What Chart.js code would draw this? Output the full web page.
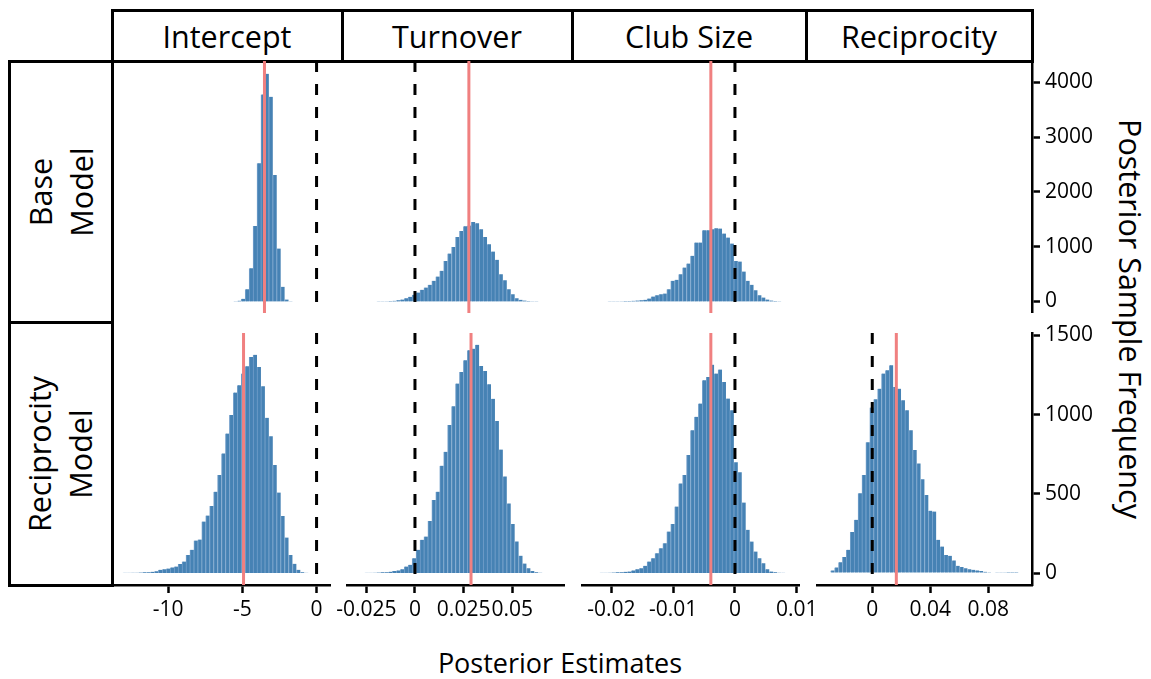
<!DOCTYPE html>
<html>
<head>
<meta charset="utf-8">
<title>Posterior Estimates</title>
<script src="https://cdn.jsdelivr.net/npm/chart.js@4.4.1/dist/chart.umd.min.js"></script>
<style>
  html, body { margin: 0; padding: 0; background: #fff; }
  #figure { position: relative; width: 1151px; height: 679px; overflow: hidden; font-family: 'Open Sans', sans-serif; color: #000; }
  #figure canvas { position: absolute; }
  .strip { position: absolute; box-sizing: border-box; border: 3px solid #000; display: flex; align-items: center; justify-content: center; font-size: 30.5px; white-space: nowrap; }
  .strip.side span { display: block; transform: rotate(-90deg); text-align: center; line-height: 41px; }
  .title { position: absolute; font-size: 27px; line-height: 38px; white-space: nowrap; transform: translate(-50%, -50%); }
  .title.vertical { writing-mode: vertical-rl; font-size: 30.5px; }
</style>
</head>
<body>
<div id="figure"></div>
<script>
// Posterior draws binned into 50 equal-width bins per parameter; both models share a parameter's bins.
const parameters = ['Intercept', 'Turnover', 'Club Size', 'Reciprocity'];
const models = [['Base', 'Model'], ['Reciprocity', 'Model']];

const binStart = [-13.05, -0.02985, -0.023144, -0.03138];
const binWidth = [0.2658, 0.002027, 0.000638, 0.002697];

// Sample counts per bin, base model
const baseIntercept = [0,0,0,0,0,0,0,0,0,0, 0,0,0,0,0,0,0,0,0,0, 0,0,0,0,0,0,0,0,3,15,
  48,225,608,1380,2522,3780,4157,3738,2310,966, 268,36,5,0,0,0,0,0,0,0];
const baseTurnover = [1,1,1,2,2,3,4,6,8,12, 24,36,61,85,122,164,213,255,304,377,
  456,559,741,875,997,1179,1288,1373,1386,1452, 1428,1319,1179,1045,911,760,498,389,225,134,
  61,30,18,10,6,4,2,1,1,0];
const baseClubSize = [1,1,2,2,3,3,4,5,7,9, 14,18,24,30,55,91,115,134,146,225,
  377,395,498,620,693,833,1076,1076,1300,1300, 1319,1337,1331,1240,1167,1057,741,729,547,377,
  304,207,115,73,36,18,9,5,2,1];

// Sample counts per bin, reciprocity model
const recipIntercept = [2,2,3,3,4,5,6,8,12,21, 24,29,36,42,57,73,115,147,205,212,
  325,363,424,514,619,755,881,997,1139,1185, 1259,1305,1364,1378,1301,1179,980,864,682,508,
  361,224,115,59,21,6,2,1,0,0];
const recipTurnover = [1,1,2,2,3,4,5,6,9,13, 17,25,42,52,94,147,210,231,329,462,
  514,678,766,934,1053,1196,1269,1343,1406,1416, 1441,1307,1276,1192,1100,960,780,610,440,310,
  200,110,60,30,14,6,3,1,1,0];
const recipClubSize = [1,1,2,2,3,4,5,6,8,10, 17,25,31,46,73,94,126,157,189,262,
  310,420,566,619,745,902,986,1070,1217,1238, 1315,1259,1284,1206,1101,1028,699,636,445,273,
  199,136,94,63,25,10,5,3,2,1];
const recipReciprocity = [4,17,36,69,101,147,260,336,504,619, 825,1045,1097,1164,1259,1280,1311,1175,1164,1091,
  1028,902,776,692,592,493,394,388,210,168, 115,109,80,46,38,31,25,21,17,13,
  8,6,4,3,2,2,1,1,1,0];

// Posterior means
const baseMeans = [-3.51, 0.0277, -0.0039, null];
const recipMeans = [-4.92, 0.0288, -0.0039, 0.0166];
const referenceValue = 0;

// Axis limits and ticks
const xRanges = [[-13.7145, 0.9045], [-0.03492, 0.07657], [-0.02474, 0.01036], [-0.03812, 0.1102]];
const yRanges = [[-210, 4390], [-75, 1515]];
const xTickValues = [[-10, -5, 0], [-0.025, 0, 0.025, 0.05], [-0.02, -0.01, 0, 0.01], [0, 0.04, 0.08]];
const xTickLabels = [['-10', '-5', '0'], ['-0.025', '0', '0.025', '0.05'], ['-0.02', '-0.01', '0', '0.01'], ['0', '0.04', '0.08']];
const yTickValues = [[0, 1000, 2000, 3000, 4000], [0, 500, 1000, 1500]];
const yTickLabels = [['0', '1000', '2000', '3000', '4000'], ['0', '500', '1000', '1500']];

const countsByModel = [
  [baseIntercept, baseTurnover, baseClubSize, null],
  [recipIntercept, recipTurnover, recipClubSize, recipReciprocity]
];
const meansByModel = [baseMeans, recipMeans];

// Layout of the facet grid (page pixels)
const colLeft = [113, 347, 582, 817];
const colWidth = [217, 217, 217, 215];
const rowTop = [61, 333];
const ROW_H = 252;
const PAD_L = 40, PAD_R = 40, PAD_T = 20;
const X_AXIS_H = 50, Y_AXIS_W = 95;

const BAR_COLOR = '#4682b4';
const MEAN_COLOR = '#f08080';
const FONT = 'Open Sans';
const TICK_SIZE = 21;

Chart.defaults.font.family = FONT;
Chart.defaults.color = '#000';

const fig = document.getElementById('figure');

// Facet strips
function addBox(x0, y0, x1, y1, cls, html) {
  const d = document.createElement('div');
  d.className = 'strip ' + cls;
  d.style.left = (x0 - 1.5) + 'px';
  d.style.top = (y0 - 1.5) + 'px';
  d.style.width = (x1 - x0 + 3) + 'px';
  d.style.height = (y1 - y0 + 3) + 'px';
  d.innerHTML = html;
  fig.appendChild(d);
}
const stripEdges = [112, 342, 572, 806, 1032];
parameters.forEach((p, i) => addBox(stripEdges[i], 10, stripEdges[i + 1], 61, 'top', p));
const sideEdges = [61, 322, 585];
models.forEach((m, i) => addBox(9, sideEdges[i], 112, sideEdges[i + 1], 'side', '<span>' + m.join('<br>') + '</span>'));

// Axis titles
function addTitle(text, x, y, cls) {
  const d = document.createElement('div');
  d.className = 'title ' + (cls || '');
  d.style.left = x + 'px';
  d.style.top = y + 'px';
  d.textContent = text;
  fig.appendChild(d);
}
addTitle('Posterior Estimates', 560, 663);
addTitle('Posterior Sample Frequency', 1131, 319, 'vertical');

function vline(value, yMin, yMax, color, width, dash, order) {
  return {
    type: 'line',
    data: [{ x: value, y: yMax }, { x: value, y: yMin }],
    borderColor: color,
    borderWidth: width,
    borderDash: dash,
    pointRadius: 0,
    fill: false,
    order: order
  };
}

function panel(row, col) {
  const counts = countsByModel[row][col];
  const mean = meansByModel[row][col];
  const [yMin, yMax] = yRanges[row];
  const [xMin, xMax] = xRanges[col];
  const showX = row === 1;
  const showY = col === 3;

  const canvas = document.createElement('canvas');
  const width = PAD_L + colWidth[col] + (showY ? Y_AXIS_W : PAD_R);
  const height = PAD_T + ROW_H + (showX ? X_AXIS_H : 0);
  canvas.width = width;
  canvas.height = height;
  canvas.style.width = width + 'px';
  canvas.style.height = height + 'px';
  canvas.style.left = (colLeft[col] - PAD_L) + 'px';
  canvas.style.top = (rowTop[row] - PAD_T) + 'px';
  fig.appendChild(canvas);

  const datasets = [];
  if (counts) {
    datasets.push({
      type: 'bar',
      data: counts.map((n, i) => ({ x: binStart[col] + binWidth[col] * (i + 0.5), y: n })),
      backgroundColor: BAR_COLOR,
      borderColor: '#74a0cb',
      borderWidth: { left: 1, right: 0, top: 0, bottom: 0 },
      borderSkipped: false,
      barPercentage: 1,
      categoryPercentage: 1,
      order: 3
    });
    datasets.push(vline(mean, yMin, yMax, MEAN_COLOR, 3, [], 2));
    datasets.push(vline(referenceValue, yMin, yMax, '#000', 3, [11, 12], 1));
  }

  new Chart(canvas, {
    type: 'bar',
    data: { datasets },
    options: {
      responsive: false,
      animation: false,
      devicePixelRatio: 1,
      layout: { padding: { left: PAD_L, right: showY ? 0 : PAD_R, top: PAD_T, bottom: 0 } },
      plugins: { legend: { display: false }, tooltip: { enabled: false } },
      scales: {
        x: {
          type: 'linear',
          min: xMin,
          max: xMax,
          offset: false,
          display: showX,
          position: 'bottom',
          border: { display: true, color: '#000', width: 2.5 },
          grid: { offset: false, drawOnChartArea: false, drawTicks: true, tickLength: 8, tickWidth: 2.5, tickColor: '#000' },
          ticks: {
            autoSkip: false, maxRotation: 0, padding: 4, color: '#000',
            font: { family: FONT, size: TICK_SIZE },
            callback: (v, i) => xTickLabels[col][i]
          },
          afterBuildTicks: s => { s.ticks = xTickValues[col].map(v => ({ value: v })); },
          afterFit: s => {
            if (!showX) return;
            s.height = X_AXIS_H; s.paddingLeft = 0; s.paddingRight = 0;
          }
        },
        y: {
          type: 'linear',
          min: yMin,
          max: yMax,
          display: showY,
          position: 'right',
          border: { display: true, color: '#000', width: 2.5 },
          grid: { offset: false, drawOnChartArea: false, drawTicks: true, tickLength: 8, tickWidth: 2.5, tickColor: '#000' },
          ticks: {
            autoSkip: false, padding: 5, color: '#000',
            font: { family: FONT, size: TICK_SIZE },
            callback: (v, i) => yTickLabels[row][i]
          },
          afterBuildTicks: s => { s.ticks = yTickValues[row].map(v => ({ value: v })); },
          afterFit: s => {
            if (!showY) return;
            s.width = Y_AXIS_W; s.paddingTop = 0; s.paddingBottom = 0;
          }
        }
      }
    }
  });
}

for (let r = 0; r < 2; r++) {
  for (let c = 0; c < 4; c++) panel(r, c);
}
</script>
</body>
</html>
